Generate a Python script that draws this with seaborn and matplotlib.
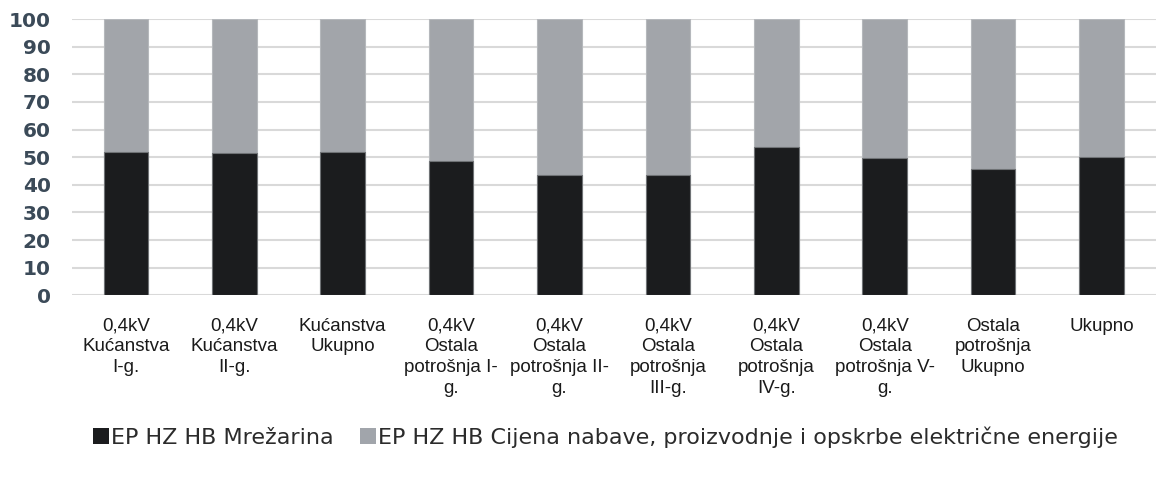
"""
Stacked 100% bar chart: EP HZ HB tariff structure per consumer category
"""
import numpy as np
import pandas as pd
import matplotlib
matplotlib.use("Agg")
import matplotlib.pyplot as plt
from matplotlib.patches import Patch
import seaborn as sns

categories = [
    "0,4kV\nKućanstva\nI-g.",
    "0,4kV\nKućanstva\nII-g.",
    "Kućanstva\nUkupno",
    "0,4kV\nOstala\npotrošnja I-\ng.",
    "0,4kV\nOstala\npotrošnja II-\ng.",
    "0,4kV\nOstala\npotrošnja\nIII-g.",
    "0,4kV\nOstala\npotrošnja\nIV-g.",
    "0,4kV\nOstala\npotrošnja V-\ng.",
    "Ostala\npotrošnja\nUkupno",
    "Ukupno",
]
mrezarina = [52.0, 51.4, 51.8, 48.7, 43.7, 43.5, 53.6, 49.6, 45.7, 50.2]
cijena = [100 - v for v in mrezarina]
y_ticks = [0, 10, 20, 30, 40, 50, 60, 70, 80, 90, 100]

label_mreza = "EP HZ HB Mrežarina"
label_cijena = "EP HZ HB Cijena nabave, proizvodnje i opskrbe električne energije"

col_black = "#1b1c1e"
col_gray = "#a1a5ab"

df = pd.DataFrame({
    "kategorija": categories,
    "mreza": mrezarina,
    "cijena": cijena,
})
df["ukupno"] = df["mreza"] + df["cijena"]

sns.set_style("white")

fig = plt.figure(figsize=(11.6, 4.8), dpi=100)
ax = fig.add_axes([0.0618, 0.3848, 0.9345, 0.5756])

# gray on the full height, black drawn over it
sns.barplot(data=df, x="kategorija", y="ukupno", color=col_gray,
            width=0.41, edgecolor="#b5b8bc", linewidth=0.8, ax=ax, zorder=3)
sns.barplot(data=df, x="kategorija", y="mreza", color=col_black,
            width=0.41, edgecolor="#6f7275", linewidth=0.8, ax=ax, zorder=4)

ax.set_ylim(0, 100)
ax.set_xlim(-0.5, len(categories) - 0.5)
ax.set_yticks(y_ticks)
ax.yaxis.grid(True, color="#d9d9d9", linewidth=1.5, zorder=0)
ax.set_axisbelow(True)
for s in ax.spines.values():
    s.set_visible(False)

ax.set_xlabel("")
ax.set_ylabel("")
ax.tick_params(axis="both", length=0)
ax.tick_params(axis="x", pad=16)
ax.tick_params(axis="y", pad=15)

for lab in ax.get_yticklabels():
    lab.set_fontfamily(["DejaVu Sans"])
    lab.set_fontweight("bold")
    lab.set_fontsize(14.5)
    lab.set_color("#3b4a58")
for lab in ax.get_xticklabels():
    lab.set_fontfamily(["Liberation Sans", "DejaVu Sans"])
    lab.set_fontsize(13.5)
    lab.set_color("#1a1a1a")
    lab.set_linespacing(1.3)
    lab.set_verticalalignment("top")

handles = [Patch(facecolor=col_black, edgecolor="none", label=label_mreza),
           Patch(facecolor=col_gray, edgecolor="none", label=label_cijena)]
fig.legend(handles=handles, loc="center", bbox_to_anchor=(0.522, 0.09),
           ncol=2, frameon=False, handlelength=0.7, handleheight=0.7,
           handletextpad=0.1, columnspacing=1.2, borderpad=0.2,
           prop={"family": ["DejaVu Sans"], "size": 16},
           labelcolor="#2b2b2b")

fig.savefig("out.png", dpi=100)
